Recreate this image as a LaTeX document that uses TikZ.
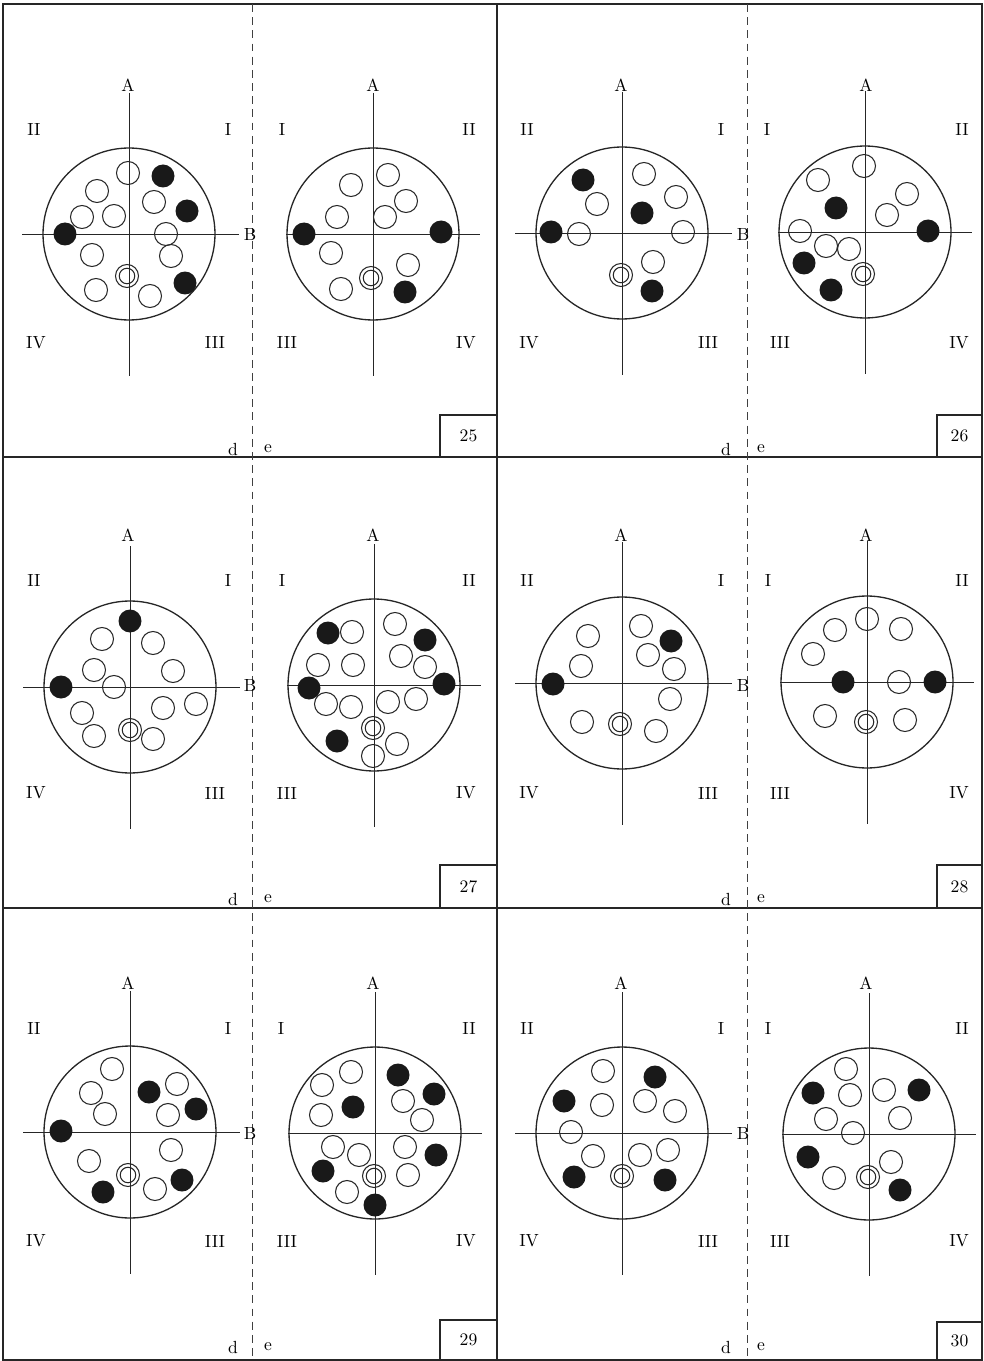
\documentclass[tikz,border=0pt]{standalone}
\newcommand{\dotrad}{2.3mm}
\newcommand{\rimrad}{17.2mm}
\newcommand{\ringrad}{2.3mm}
\newcommand{\holerad}{1.55mm}
\begin{document}
\begin{tikzpicture}[
  x=0.02cm, y=-0.02cm,
  panelline/.style={line width=0.9pt, black!85},
  cutline/.style={line width=0.5pt, black!75, dash pattern=on 4.5pt off 3pt},
  axisline/.style={line width=0.5pt, black!85},
  rim/.style={line width=0.75pt, black!85},
  whitedot/.style={line width=0.6pt, black!85},
  blackdot/.style={fill=black!90},
  lbl/.style={font=\fontsize{10}{12}\selectfont, inner sep=0pt},
]
\fill[white] (0,0) rectangle (983,1361);
\useasboundingbox (0,0) rectangle (983,1361);

% Frame and panel borders
\draw[panelline] (3,4) rectangle (982,1360);
\draw[panelline] (497,4) -- (497,1360);
\draw[panelline] (3,457) -- (982,457);
\draw[panelline] (3,908) -- (982,908);

% Cut lines between d and e
\draw[cutline] (252,4) -- (252,1360);
\draw[cutline] (747,4) -- (747,1360);

% Labels in each panel
\foreach \ox/\oy/\tag/\ex in {0/0/p25/282, 493/0/p26/274, 0/450/p27/282, 493/450/p28/275, 0/898/p29/281, 493/898/p30/275} {
  \begin{scope}[shift={(\ox,\oy)}]
    \node[lbl] (\tag-Ad) at (128,85) {A};
    \node[lbl] (\tag-Ae) at (373,85) {A};
    \node[lbl] (\tag-B) at (250,235) {B};
    \node[lbl] (\tag-d2) at (34,130) {II};
    \node[lbl] (\tag-d1) at (228,130) {I};
    \node[lbl] (\tag-e1) at (\ex,130) {I};
    \node[lbl] (\tag-e2) at (469,130) {II};
    \node[lbl] (\tag-d4) at (36,343) {IV};
    \node[lbl] (\tag-d3) at (215,343) {III};
    \node[lbl] (\tag-e3) at (287,343) {III};
    \node[lbl] (\tag-e4) at (466,343) {IV};
    \node[lbl] (\tag-d) at (233,449) {d};
    \node[lbl] (\tag-e) at (268,449) {e};
  \end{scope}
}

% Number boxes
\draw[panelline] (440,415) rectangle (497,457);
\draw[panelline] (937,415) rectangle (982,457);
\draw[panelline] (440,865) rectangle (497,908);
\draw[panelline] (937,865) rectangle (982,908);
\draw[panelline] (440,1320) rectangle (497,1360);
\draw[panelline] (937,1322) rectangle (982,1360);
\node[lbl] (n25) at (468.5,436) {25};
\node[lbl] (n26) at (959.5,436) {26};
\node[lbl] (n27) at (468.5,887) {27};
\node[lbl] (n28) at (959.5,887) {28};
\node[lbl] (n29) at (468.5,1340) {29};
\node[lbl] (n30) at (959.5,1341) {30};

% Panel 25, d
\begin{scope}[shift={(129,234)}]
  \draw[rim] (0,0) circle[radius=\rimrad];
  \draw[axisline] (0,-141) -- (0,142) (-107,0) -- (110,0);
  \foreach \p in {(-1,-61),(-32,-43),(25,-32),(-47,-17),(-15,-18),(37,0),(-37,21),(42,22),(-33,56),(21,62)}
    \draw[whitedot] \p circle[radius=\dotrad];
  \foreach \p in {(34,-58),(58,-23),(-64,0),(56,49)}
    \fill[blackdot] \p circle[radius=\dotrad];
  \draw[whitedot] (-2,42) circle[radius=\ringrad] circle[radius=\holerad];
\end{scope}

% Panel 25, e
\begin{scope}[shift={(373,234)}]
  \draw[rim] (0,0) circle[radius=\rimrad];
  \draw[axisline] (0,-141) -- (0,142) (-87,0) -- (107,0);
  \foreach \p in {(15,-59),(-22,-49),(33,-33),(-36,-17),(12,-17),(-42,19),(35,31),(-32,55)}
    \draw[whitedot] \p circle[radius=\dotrad];
  \foreach \p in {(-69,0),(68,-2),(32,58)}
    \fill[blackdot] \p circle[radius=\dotrad];
  \draw[whitedot] (-2,44) circle[radius=\ringrad] circle[radius=\holerad];
\end{scope}

% Panel 26, d
\begin{scope}[shift={(622,233)}]
  \draw[rim] (0,0) circle[radius=\rimrad];
  \draw[axisline] (0,-141) -- (0,142) (-107,0) -- (110,0);
  \foreach \p in {(22,-59),(54,-36),(-25,-29),(-43,1),(61,-1),(31,29)}
    \draw[whitedot] \p circle[radius=\dotrad];
  \foreach \p in {(-39,-53),(20,-20),(-71,-1),(30,58)}
    \fill[blackdot] \p circle[radius=\dotrad];
  \draw[whitedot] (-1,42) circle[radius=\ringrad] circle[radius=\holerad];
\end{scope}

% Panel 26, e
\begin{scope}[shift={(865,232)}]
  \draw[rim] (0,0) circle[radius=\rimrad];
  \draw[axisline] (0,-141) -- (0,142) (-87,0) -- (107,0);
  \foreach \p in {(-1,-66),(-47,-52),(42,-38),(22,-17),(-65,-1),(-39,14),(-16,17)}
    \draw[whitedot] \p circle[radius=\dotrad];
  \foreach \p in {(-29,-24),(63,-1),(-61,31),(-34,58)}
    \fill[blackdot] \p circle[radius=\dotrad];
  \draw[whitedot] (-2,42) circle[radius=\ringrad] circle[radius=\holerad];
\end{scope}

% Panel 27, d
\begin{scope}[shift={(130,687)}]
  \draw[rim] (0,0) circle[radius=\rimrad];
  \draw[axisline] (0,-141) -- (0,142) (-107,0) -- (110,0);
  \foreach \p in {(-28,-48),(23,-44),(-36,-17),(43,-16),(-16,0),(66,17),(-48,26),(33,21),(-36,49),(23,52)}
    \draw[whitedot] \p circle[radius=\dotrad];
  \foreach \p in {(0,-66),(-69,0)}
    \fill[blackdot] \p circle[radius=\dotrad];
  \draw[whitedot] (0,43) circle[radius=\ringrad] circle[radius=\holerad];
\end{scope}

% Panel 27, e
\begin{scope}[shift={(374,685)}]
  \draw[rim] (0,0) circle[radius=\rimrad];
  \draw[axisline] (0,-141) -- (0,142) (-87,0) -- (107,0);
  \foreach \p in {(-22,-53),(21,-61),(-56,-20),(-21,-20),(27,-29),(51,-18),(-48,19),(-23,22),(14,17),(42,14),(23,59),(-1,71)}
    \draw[whitedot] \p circle[radius=\dotrad];
  \foreach \p in {(-46,-52),(51,-45),(-65,3),(70,-1),(-37,56)}
    \fill[blackdot] \p circle[radius=\dotrad];
  \draw[whitedot] (-1,43) circle[radius=\ringrad] circle[radius=\holerad];
\end{scope}

% Panel 28, d
\begin{scope}[shift={(622,683)}]
  \draw[rim] (0,0) circle[radius=\rimrad];
  \draw[axisline] (0,-141) -- (0,142) (-107,0) -- (110,0);
  \foreach \p in {(19,-57),(-34,-47),(26,-28),(52,-14),(-41,-17),(48,16),(-40,39),(34,48)}
    \draw[whitedot] \p circle[radius=\dotrad];
  \foreach \p in {(49,-42),(-69,1)}
    \fill[blackdot] \p circle[radius=\dotrad];
  \draw[whitedot] (-2,41) circle[radius=\ringrad] circle[radius=\holerad];
\end{scope}

% Panel 28, e
\begin{scope}[shift={(867,682)}]
  \draw[rim] (0,0) circle[radius=\rimrad];
  \draw[axisline] (0,-141) -- (0,142) (-87,0) -- (107,0);
  \foreach \p in {(0,-63),(-32,-52),(34,-53),(-54,-28),(32,0),(-42,34),(38,38)}
    \draw[whitedot] \p circle[radius=\dotrad];
  \foreach \p in {(-24,0),(68,0)}
    \fill[blackdot] \p circle[radius=\dotrad];
  \draw[whitedot] (-1,40) circle[radius=\ringrad] circle[radius=\holerad];
\end{scope}

% Panel 29, d
\begin{scope}[shift={(130,1132)}]
  \draw[rim] (0,0) circle[radius=\rimrad];
  \draw[axisline] (0,-141) -- (0,142) (-107,0) -- (110,0);
  \foreach \p in {(-18,-63),(-39,-39),(47,-48),(-25,-18),(38,-17),(41,18),(-41,29),(25,57)}
    \draw[whitedot] \p circle[radius=\dotrad];
  \foreach \p in {(19,-40),(66,-23),(-69,-1),(52,48),(-27,60)}
    \fill[blackdot] \p circle[radius=\dotrad];
  \draw[whitedot] (-2,43) circle[radius=\ringrad] circle[radius=\holerad];
\end{scope}

% Panel 29, e
\begin{scope}[shift={(375,1133)}]
  \draw[rim] (0,0) circle[radius=\rimrad];
  \draw[axisline] (0,-141) -- (0,142) (-87,0) -- (107,0);
  \foreach \p in {(-24,-61),(-53,-48),(28,-32),(47,-13),(-54,-18),(-42,14),(-16,22),(30,14),(33,42),(-28,59)}
    \draw[whitedot] \p circle[radius=\dotrad];
  \foreach \p in {(23,-58),(59,-39),(-22,-26),(61,22),(-52,38),(0,72)}
    \fill[blackdot] \p circle[radius=\dotrad];
  \draw[whitedot] (-1,43) circle[radius=\ringrad] circle[radius=\holerad];
\end{scope}

% Panel 30, d
\begin{scope}[shift={(622,1133)}]
  \draw[rim] (0,0) circle[radius=\rimrad];
  \draw[axisline] (0,-141) -- (0,142) (-107,0) -- (110,0);
  \foreach \p in {(-19,-62),(-20,-28),(23,-32),(53,-22),(-51,-1),(-29,23),(18,22),(46,17)}
    \draw[whitedot] \p circle[radius=\dotrad];
  \foreach \p in {(33,-56),(-58,-32),(-48,44),(43,47)}
    \fill[blackdot] \p circle[radius=\dotrad];
  \draw[whitedot] (0,43) circle[radius=\ringrad] circle[radius=\holerad];
\end{scope}

% Panel 30, e
\begin{scope}[shift={(869,1134)}]
  \draw[rim] (0,0) circle[radius=\rimrad];
  \draw[axisline] (0,-141) -- (0,142) (-87,0) -- (107,0);
  \foreach \p in {(-23,-65),(15,-44),(-19,-39),(-43,-15),(31,-16),(-16,-1),(22,28),(-35,44)}
    \draw[whitedot] \p circle[radius=\dotrad];
  \foreach \p in {(-56,-41),(50,-44),(-61,23),(31,56)}
    \fill[blackdot] \p circle[radius=\dotrad];
  \draw[whitedot] (-1,43) circle[radius=\ringrad] circle[radius=\holerad];
\end{scope}

\end{tikzpicture}
\end{document}
